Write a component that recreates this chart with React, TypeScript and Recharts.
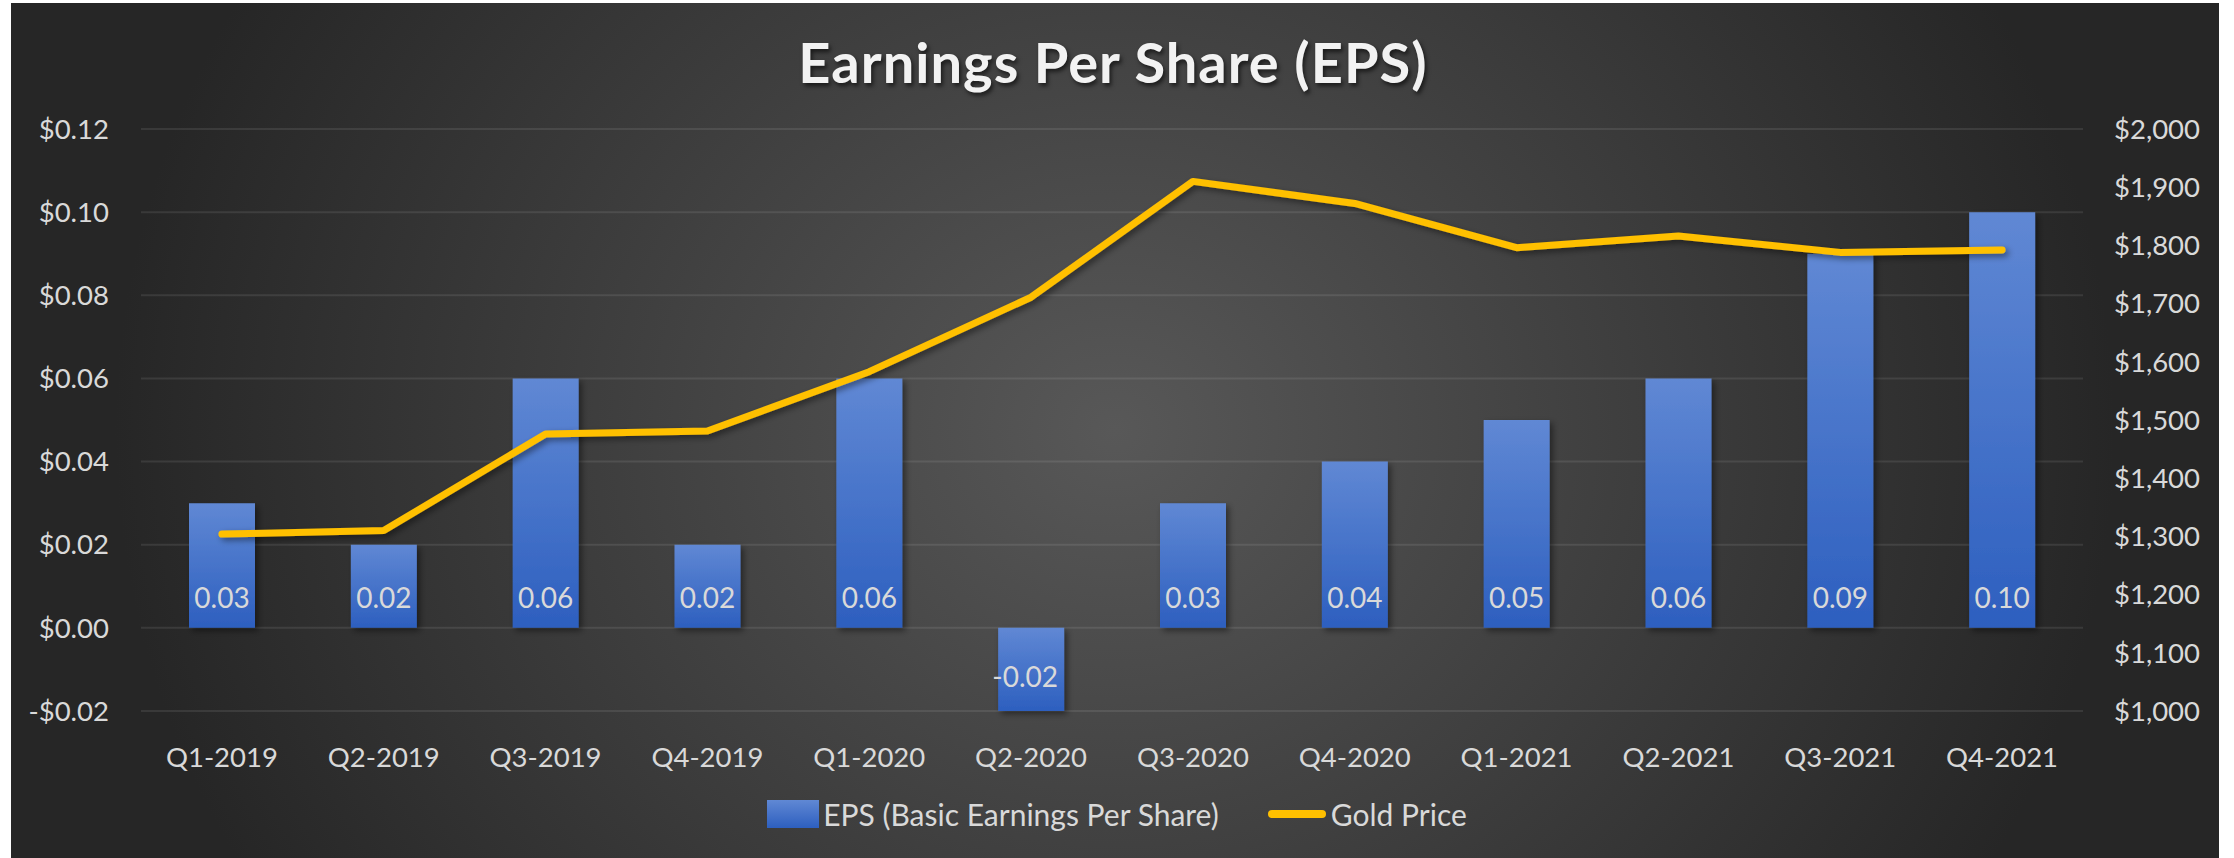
import React from 'react';
import { ComposedChart, Bar, Line, XAxis, YAxis, CartesianGrid, Legend, LabelList } from 'recharts';

const categories = ['Q1-2019', 'Q2-2019', 'Q3-2019', 'Q4-2019', 'Q1-2020', 'Q2-2020', 'Q3-2020', 'Q4-2020', 'Q1-2021', 'Q2-2021', 'Q3-2021', 'Q4-2021'];
const epsValues = [0.03, 0.02, 0.06, 0.02, 0.06, -0.02, 0.03, 0.04, 0.05, 0.06, 0.09, 0.1];
const goldValues = [1304, 1310, 1476, 1481, 1583, 1711, 1910, 1872, 1796, 1816, 1788, 1792];
const leftTicks = [-0.02, 0, 0.02, 0.04, 0.06, 0.08, 0.1, 0.12];
const rightTicks = [1000, 1100, 1200, 1300, 1400, 1500, 1600, 1700, 1800, 1900, 2000];

const data = categories.map((c, i) => ({ quarter: c, eps: epsValues[i], gold: goldValues[i] }));

const FONT = 'Lato, "Open Sans", sans-serif';
const TXT = '#d9d9d9';

const fmtLeft = (v: number) => (v < 0 ? '-' : '') + '$' + Math.abs(v).toFixed(2);
const fmtRight = (v: number) => '$' + v.toLocaleString('en-US');

const BarValueLabel = (props: any) => {
  const { x, y, width, height, value } = props;
  const bottom = Math.max(y, y + height);
  const cy = value >= 0 ? bottom - 20 : bottom - 24;
  const cx = value >= 0 ? x + width / 2 : x + width / 2 - 6;
  return (
    <text x={cx} y={cy} textAnchor="middle" fill={TXT} fontSize={28} fontFamily={FONT}>
      {Number(value).toFixed(2)}
    </text>
  );
};

const LegendContent = () => (
  <div style={{ display: 'flex', justifyContent: 'center', alignItems: 'center', width: 2234, fontFamily: FONT, fontSize: 30, color: TXT }}>
    <div style={{ width: 52, height: 28, background: 'linear-gradient(#6088d4, #2d5fbf)' }} />
    <span style={{ marginLeft: 4 }}>EPS (Basic Earnings Per Share)</span>
    <div style={{ marginLeft: 49, width: 58, height: 8, borderRadius: 4, background: '#ffc000' }} />
    <span style={{ marginLeft: 5 }}>Gold Price</span>
  </div>
);

export default function App() {
  return (
    <div style={{ position: 'absolute', left: 0, top: 0, width: 2234, height: 858, background: '#ffffff', overflow: 'hidden' }}>
      <div
        style={{
          position: 'absolute',
          left: 11,
          top: 3,
          width: 2208,
          height: 855,
          background: 'radial-gradient(1000px 900px at 50% 50%, #585858 0%, #262626 100%)',
        }}
      />
      <div
        style={{
          position: 'absolute',
          left: 0,
          top: 22,
          width: 2226,
          textAlign: 'center',
          fontFamily: FONT,
          fontWeight: 700,
          fontSize: 56,
          lineHeight: '80px',
          color: '#f2f2f2',
          textShadow: '2px 3px 4px rgba(0,0,0,0.6)',
          letterSpacing: 1,
        }}
      >
        Earnings Per Share (EPS)
      </div>
      <div style={{ position: 'absolute', left: 0, top: 0 }}>
        <ComposedChart width={2234} height={858} data={data} margin={{ top: 129, right: 0, left: 0, bottom: 87 }}>
          <defs>
            <linearGradient id="barGrad" x1="0" y1="0" x2="0" y2="1">
              <stop offset="0%" stopColor="#6088d4" />
              <stop offset="100%" stopColor="#2d5fbf" />
            </linearGradient>
            <filter id="shadow" x="-20%" y="-20%" width="140%" height="140%">
              <feDropShadow dx="3" dy="3" stdDeviation="3" floodColor="#000000" floodOpacity="0.45" />
            </filter>
          </defs>
          <CartesianGrid yAxisId="left" vertical={false} stroke="#ffffff" strokeOpacity={0.09} strokeWidth={2} />
          <XAxis
            dataKey="quarter"
            axisLine={false}
            tickLine={false}
            tickSize={0}
            tickMargin={36}
            height={60}
            interval={0}
            tick={{ fill: TXT, fontSize: 27.5, fontFamily: FONT }}
          />
          <YAxis
            yAxisId="left"
            orientation="left"
            width={141}
            domain={[-0.02, 0.12]}
            ticks={leftTicks}
            tickFormatter={fmtLeft}
            axisLine={false}
            tickLine={false}
            tickSize={0}
            tickMargin={32}
            interval={0}
            tick={{ fill: TXT, fontSize: 27.5, fontFamily: FONT }}
          />
          <YAxis
            yAxisId="right"
            orientation="right"
            width={151}
            domain={[1000, 2000]}
            ticks={rightTicks}
            tickFormatter={fmtRight}
            axisLine={false}
            tickLine={false}
            tickSize={0}
            tickMargin={31}
            interval={0}
            tick={{ fill: TXT, fontSize: 27.5, fontFamily: FONT, textAnchor: 'start' }}
          />
          <Legend
            layout="horizontal"
            verticalAlign="middle"
            align="center"
            content={LegendContent}
            wrapperStyle={{ position: 'absolute', top: 796, left: 0, width: 2234, height: 40 }}
          />
          <Bar
            yAxisId="left"
            dataKey="eps"
            name="EPS (Basic Earnings Per Share)"
            barSize={66}
            fill="url(#barGrad)"
            filter="url(#shadow)"
            isAnimationActive={false}
          >
            <LabelList dataKey="eps" content={BarValueLabel} />
          </Bar>
          <Line
            yAxisId="right"
            type="linear"
            dataKey="gold"
            name="Gold Price"
            stroke="#ffc000"
            strokeWidth={7}
            strokeLinecap="round"
            strokeLinejoin="round"
            dot={false}
            activeDot={false}
            filter="url(#shadow)"
            isAnimationActive={false}
          />
        </ComposedChart>
      </div>
    </div>
  );
}
